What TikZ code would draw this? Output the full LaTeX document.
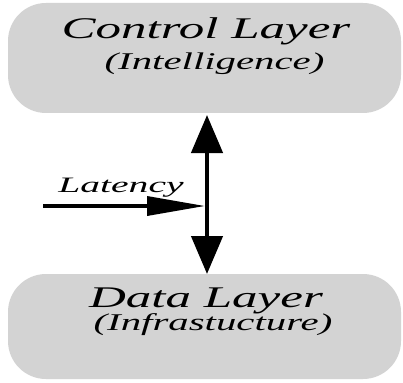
\documentclass[tikz,border=0pt]{standalone}
\usepackage{fontspec}
\setmainfont{Liberation Serif}
\usetikzlibrary{arrows.meta}
\definecolor{layergray}{HTML}{D3D3D3}
\newcommand{\wide}[2][1.7]{\scalebox{#1}[1]{#2}}
\tikzset{
  layer/.style={fill=layergray, draw=none, rounded corners=38pt, inner sep=0pt},
  title/.style={font=\itshape\fontsize{30}{30}\selectfont, inner sep=0pt, anchor=base},
  subtitle/.style={font=\itshape\fontsize{24}{24}\selectfont, inner sep=0pt, anchor=base},
  tag/.style={font=\itshape\fontsize{22}{22}\selectfont, inner sep=0pt, anchor=base},
  biarrow/.style={line width=4.5pt, {Triangle[length=38pt,width=31pt]}-{Triangle[length=38pt,width=31pt]}},
  inarrow/.style={line width=3.5pt, -{Triangle[length=58pt,width=19pt]}},
}
\begin{document}
\begin{tikzpicture}[x=1pt,y=-1pt]
\useasboundingbox (0,0) rectangle (403,382);
% the two layers
\node[layer, minimum width=393pt, minimum height=110pt] (ctrl) at (204.5,58) {};
\node[layer, minimum width=393pt, minimum height=105pt] (data) at (204.5,326.5) {};
% labels
\node[title] (ctrlT) at (206,39) {\wide{Control Layer}};
\node[subtitle] (ctrlS) at (214.5,70) {\wide{(Intelligence)}};
\node[title] (dataT) at (206,307) {\wide{Data Layer}};
\node[subtitle] (dataS) at (213,330) {\wide{(Infrastucture)}};
% link between the layers
\coordinate (up) at (207,115);
\coordinate (dn) at (207,274);
\draw[biarrow] (up) -- (dn);
% latency input
\coordinate (lat0) at (43,206);
\coordinate (lat1) at (205,206);
\draw[inarrow] (lat0) -- (lat1);
\node[tag] (latT) at (121,192) {\wide[1.8]{Latency}};
\end{tikzpicture}
\end{document}
